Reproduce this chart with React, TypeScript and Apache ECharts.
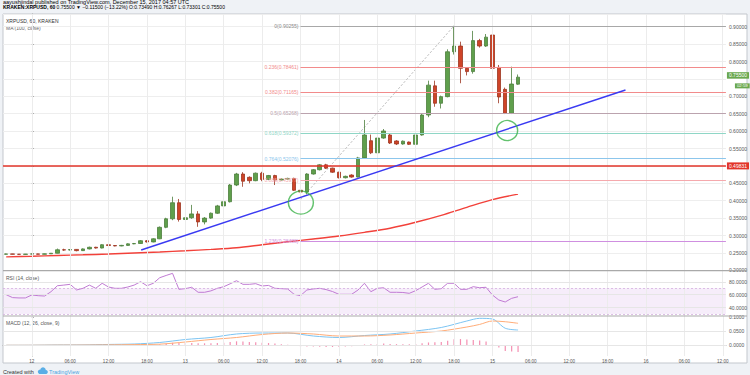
import React, { useEffect, useRef } from 'react';
import * as echarts from 'echarts';

const FIRST_HOUR = -4;
const LAST_HOUR = 108;
const DAY_LABELS = ['12', '13', '14', '15', '16'];
const HOUR_LABELS = ['06:00', '12:00', '18:00'];

// hourly candles, Dec 11 20:00 -> Dec 15 04:00 (UTC)
const opens = [
  0.2462, 0.2470, 0.2463, 0.2458, 0.2466, 0.2471, 0.2462, 0.2472, 0.2490, 0.2590,
  0.2582, 0.2600, 0.2565, 0.2615, 0.2662, 0.2640, 0.2735, 0.2712, 0.2700, 0.2716,
  0.2760, 0.2770, 0.2850, 0.2815, 0.2905, 0.3235, 0.3480, 0.3942, 0.3460, 0.3510,
  0.3620, 0.3390, 0.3500, 0.3640, 0.3850, 0.3970, 0.4451, 0.4767, 0.4672, 0.4575,
  0.4790, 0.4610, 0.4723, 0.4595, 0.4620, 0.4640, 0.4300, 0.4250, 0.4767, 0.4890,
  0.5030, 0.4935, 0.4820, 0.4660, 0.4737, 0.4680, 0.5230, 0.5724, 0.5377, 0.5800,
  0.5888, 0.5716, 0.5630, 0.5685, 0.5620, 0.5888, 0.6463, 0.7300, 0.6800, 0.6990,
  0.8280, 0.8445, 0.7805, 0.7710, 0.8600, 0.8445, 0.8761, 0.7830, 0.7200, 0.6510,
  0.7349,
];
const closes = [
  0.2470, 0.2463, 0.2458, 0.2466, 0.2471, 0.2462, 0.2472, 0.2490, 0.2590, 0.2582,
  0.2596, 0.2565, 0.2615, 0.2662, 0.2640, 0.2735, 0.2712, 0.2700, 0.2716, 0.2760,
  0.2770, 0.2850, 0.2815, 0.2905, 0.3235, 0.3480, 0.3942, 0.3460, 0.3510, 0.3620,
  0.3390, 0.3500, 0.3640, 0.3850, 0.3970, 0.4451, 0.4767, 0.4560, 0.4575, 0.4790,
  0.4610, 0.4723, 0.4595, 0.4620, 0.4640, 0.4300, 0.4250, 0.4767, 0.4890, 0.5030,
  0.4935, 0.4820, 0.4660, 0.4700, 0.4680, 0.5230, 0.5888, 0.5377, 0.5800, 0.6003,
  0.5658, 0.5630, 0.5710, 0.5620, 0.5888, 0.6463, 0.7321, 0.6800, 0.6990, 0.8280,
  0.8445, 0.7805, 0.7710, 0.8600, 0.8445, 0.8700, 0.7805, 0.6980, 0.6510, 0.7353,
  0.7550,
];
const lows = [
  0.2455, 0.2458, 0.2450, 0.2452, 0.2460, 0.2458, 0.2458, 0.2468, 0.2485, 0.2560,
  0.2570, 0.2545, 0.2555, 0.2600, 0.2625, 0.2630, 0.2700, 0.2690, 0.2690, 0.2705,
  0.2750, 0.2760, 0.2800, 0.2805, 0.2895, 0.3210, 0.3440, 0.3400, 0.3250, 0.3480,
  0.3250, 0.3320, 0.3480, 0.3620, 0.3830, 0.3950, 0.4420, 0.4400, 0.4500, 0.4560,
  0.4560, 0.4590, 0.4450, 0.4580, 0.4600, 0.4280, 0.4030, 0.4180, 0.4750, 0.4870,
  0.4910, 0.4800, 0.4640, 0.4640, 0.4660, 0.4670, 0.5200, 0.5340, 0.5360, 0.5780,
  0.5630, 0.5600, 0.5610, 0.5600, 0.5600, 0.5870, 0.6400, 0.6700, 0.6650, 0.6970,
  0.8200, 0.7375, 0.7600, 0.7650, 0.8400, 0.8420, 0.7750, 0.6800, 0.6490, 0.6490,
  0.7330,
];
const highs = [
  0.2478, 0.2474, 0.2468, 0.2470, 0.2478, 0.2476, 0.2478, 0.2495, 0.2625, 0.2620,
  0.2610, 0.2610, 0.2630, 0.2680, 0.2675, 0.2750, 0.2760, 0.2725, 0.2730, 0.2775,
  0.2785, 0.2870, 0.2870, 0.2920, 0.3260, 0.3510, 0.4115, 0.4050, 0.3930, 0.3880,
  0.3700, 0.3530, 0.3660, 0.3880, 0.4000, 0.4480, 0.4800, 0.4820, 0.4700, 0.4810,
  0.4830, 0.4740, 0.4745, 0.4640, 0.4660, 0.4660, 0.4320, 0.4790, 0.4910, 0.5050,
  0.5060, 0.4950, 0.4830, 0.4720, 0.4760, 0.5260, 0.6320, 0.5900, 0.5830, 0.6060,
  0.5920, 0.5740, 0.5730, 0.5700, 0.5910, 0.6500, 0.7450, 0.7450, 0.7020, 0.8350,
  0.90255, 0.8570, 0.7830, 0.8880, 0.8650, 0.8790, 0.8800, 0.7900, 0.7250, 0.7851,
  0.76267,
];

// MA(100, close): [hour, value]
const maPoints = [
  [-4, 0.2386], [0, 0.2404], [4, 0.2425], [8, 0.2445], [12, 0.2468], [16, 0.2497],
  [20, 0.2526], [24, 0.2560], [28, 0.2600], [32, 0.2650], [36, 0.2735], [40, 0.2820],
  [44, 0.2900], [48, 0.2985], [52, 0.3090], [56, 0.3210], [60, 0.3380], [64, 0.3580],
  [68, 0.3810], [72, 0.4030], [76, 0.4190],
];

// RSI(14, close) per candle
const rsiValues = [
  60, 55.5, 55, 55, 59.6, 58.5, 58, 64.7, 74, 75,
  76.2, 67.4, 70, 75, 70, 77.8, 72, 70, 70, 72,
  75, 80.3, 74, 77.8, 86.5, 90, 93.3, 68.4, 69.5, 71.6,
  63.8, 63.8, 66, 70, 72.5, 77, 81.8, 76.2, 76.2, 77.2,
  73.6, 74.5, 70, 69.5, 68.9, 60.7, 58.5, 67.4, 69, 70,
  68, 65, 60.7, 60.7, 60.7, 67.4, 77.8, 64.7, 70, 70.9,
  63.8, 63.8, 63.5, 62.2, 66.3, 72, 77.8, 68.4, 69.4, 77.8,
  77.8, 68.4, 68.4, 72.5, 70.9, 71.6, 59.6, 51.8, 48.7, 54.4,
  56.9,
];

// MACD(12, 26, close, 9)
const macdPoints = [
  [-4, 0.0], [0, 0.0002], [4, 0.001], [8, 0.0012], [12, 0.003], [16, 0.0046],
  [20, 0.0099], [24, 0.0204], [28, 0.0275], [32, 0.0398], [36, 0.0433], [40, 0.0433],
  [44, 0.0327], [48, 0.0275], [52, 0.0345], [56, 0.0398], [60, 0.0504], [64, 0.0627],
  [68, 0.0856], [70, 0.095], [72, 0.0926], [74, 0.06], [76, 0.0539],
];
const signalPoints = [
  [-4, 0.0], [0, 0.0001], [4, 0.0005], [8, 0.0008], [12, 0.0015], [16, 0.0025],
  [20, 0.004], [24, 0.0116], [28, 0.0204], [32, 0.0275], [36, 0.038], [40, 0.0433],
  [44, 0.0398], [48, 0.0327], [52, 0.0327], [56, 0.0363], [60, 0.0433], [64, 0.0504],
  [68, 0.0644], [70, 0.0735], [72, 0.0856], [74, 0.083], [76, 0.0775],
];
const histValues = [
  0.0002, 0.0002, 0.0002, 0.0002, 0.0002, 0.0002, 0.0002, 0.0002, 0.0002, 0.0002,
  0.0002, 0.0002, 0.0002, 0.0002, 0.0005, 0.0005, 0.0005, 0.0005, 0.0005, 0.001,
  0.0015, 0.002, 0.002, 0.0025, 0.004, 0.006, 0.009, 0.008, 0.008, 0.008,
  0.007, 0.007, 0.0075, 0.008, 0.009, 0.012, 0.014, 0.013, 0.012, 0.011,
  0.009, 0.008, 0.006, 0.004, 0.002, -0.002, -0.005, -0.004, -0.004, -0.005,
  -0.006, -0.006, -0.005, -0.004, -0.003, 0.0, 0.003, 0.004, 0.005, 0.006,
  0.005, 0.004, 0.004, 0.004, 0.005, 0.007, 0.01, 0.011, 0.012, 0.016,
  0.021, 0.022, 0.02, 0.019, 0.017, 0.013, 0.004, -0.008, -0.02, -0.022,
  -0.024,
];

// drawings
const fibRatios = ['0', '0.236', '0.382', '0.5', '0.618', '0.764', '0.886', '1.236'];
const fibPrices = [0.90255, 0.78461, 0.71165, 0.65268, 0.59372, 0.52076, 0.45977, 0.28488];
const fibColors = ['#a8a8a8', '#f28b8b', '#f28b8b', '#bba3ae', '#8fd6c6', '#8cc6ec', '#f5a9ad', '#cf8fe0'];
const fibStartHour = 42;
const fibSwing = [[42, 0.4028], [66, 0.90255]];
const trendLine = [[17.1, 0.2583], [92.8, 0.7181]];
const circlePoints = [[42.06, 0.3948], [74.3, 0.6017]];
const resistanceLevel = 0.49831;
const lastPrice = 0.755;
const countdownLevel = 0.7305;
// axis labels hidden under the price badges
const coveredTicks = [0.5, 0.75];

const FONT = 'Liberation Sans, Arial, sans-serif';
const LEFT = 3;
const RIGHT = 24;
const X_MIN = FIRST_HOUR - 0.5;
const X_MAX = LAST_HOUR + 0.5;

export default function App() {
  const ref = useRef<HTMLDivElement>(null);

  useEffect(() => {
    if (!ref.current) return;
    const chart = echarts.init(ref.current, null, { renderer: 'svg' });

    const hours: number[] = [];
    for (let h = FIRST_HOUR; h <= LAST_HOUR; h++) hours.push(h);
    const cats = hours.map((h) => String(h));
    const gridHours = hours.filter((h) => h % 6 === 0);
    const isLabelIdx = (i: number) => (i + FIRST_HOUR) % 6 === 0 && i + FIRST_HOUR >= 0;
    const fmtHour = (v: string) => {
      const h = Number(v);
      if (h < 0 || h % 6 !== 0) return '';
      if (h % 24 === 0) return DAY_LABELS[h / 24];
      return HOUR_LABELS[(h % 24) / 6 - 1];
    };
    const fmtPrice = (v: number) => {
      if (Math.abs(v * 20 - Math.round(v * 20)) > 1e-6) return '';
      if (coveredTicks.some((c) => Math.abs(c - v) < 1e-6)) return '';
      return v.toFixed(5);
    };

    const vLines = (color: string) => ({
      silent: true,
      symbol: ['none', 'none'],
      label: { show: false },
      lineStyle: { color, width: 1, type: 'solid' },
      data: gridHours.map((h) => ({ xAxis: h })),
    });

    const catAxis = (gridIndex: number, showLabels: boolean) => ({
      type: 'category',
      gridIndex,
      data: cats,
      boundaryGap: true,
      axisLine: { show: showLabels, lineStyle: { color: '#a8a8a8' } },
      axisTick: { show: false },
      axisLabel: {
        show: showLabels,
        interval: (i: number) => isLabelIdx(i),
        formatter: fmtHour,
        fontSize: 4.6,
        color: '#555',
        fontFamily: FONT,
        margin: 3,
      },
      splitLine: { show: false },
    });
    const valAxis = (gridIndex: number) => ({
      type: 'value',
      gridIndex,
      min: X_MIN,
      max: X_MAX,
      show: false,
    });

    const option: any = {
      animation: false,
      backgroundColor: '#eff2f6',
      grid: [
        { left: LEFT, right: RIGHT, top: 14, height: 256.3 },
        { left: LEFT, right: RIGHT, top: 270.7, height: 45.3 },
        { left: LEFT, right: RIGHT, top: 316, height: 40 },
      ],
      xAxis: [catAxis(0, false), catAxis(1, false), catAxis(2, true), valAxis(0), valAxis(1), valAxis(2)],
      yAxis: [
        {
          type: 'value', gridIndex: 0, position: 'right', min: 0.2, max: 0.9365, interval: 0.05,
          axisLine: { show: true, lineStyle: { color: '#9a9a9a' } },
          axisTick: { show: true, length: 2, lineStyle: { color: '#9a9a9a' } },
          axisLabel: { fontSize: 5, color: '#555', fontFamily: FONT, margin: 3, showMaxLabel: false, formatter: fmtPrice },
          splitLine: { show: true, lineStyle: { color: '#eeeeee', width: 1 } },
        },
        {
          type: 'value', gridIndex: 1, position: 'right', min: 26.9, max: 97.4,
          axisLine: { show: true, lineStyle: { color: '#9a9a9a' } },
          axisTick: { show: true, length: 2, customValues: [40, 60, 80], lineStyle: { color: '#9a9a9a' } },
          axisLabel: { fontSize: 5, color: '#555', fontFamily: FONT, margin: 3, customValues: [40, 60, 80], formatter: (v: number) => v.toFixed(4) },
          splitLine: { show: false },
        },
        {
          type: 'value', gridIndex: 2, position: 'right', min: -0.0377, max: 0.1032,
          axisLine: { show: true, lineStyle: { color: '#9a9a9a' } },
          axisTick: { show: true, length: 2, customValues: [0, 0.05, 0.1], lineStyle: { color: '#9a9a9a' } },
          axisLabel: { fontSize: 5, color: '#555', fontFamily: FONT, margin: 3, customValues: [0, 0.05, 0.1], formatter: (v: number) => v.toFixed(4) },
          splitLine: { show: false },
        },
      ],
      series: [
        // vertical grid, main pane
        { type: 'line', xAxisIndex: 3, yAxisIndex: 0, data: [], z: 1, markLine: vLines('#ececec') },
        // RSI pane background
        {
          type: 'line', xAxisIndex: 4, yAxisIndex: 1, data: [], z: 1,
          markArea: { silent: true, itemStyle: { color: 'rgba(170, 90, 210, 0.11)' }, data: [[{ yAxis: 30 }, { yAxis: 70 }]] },
          markLine: {
            silent: true, symbol: ['none', 'none'], label: { show: false },
            data: [
              ...gridHours.map((h) => ({ xAxis: h, lineStyle: { color: '#ececec', width: 1, type: 'solid' } })),
              ...[40, 60, 80].map((v) => ({ yAxis: v, lineStyle: { color: '#e6e6e6', width: 1, type: 'solid' } })),
              ...[30, 70].map((v) => ({ yAxis: v, lineStyle: { color: '#d4b0e0', width: 0.8, type: [2, 2] } })),
            ],
          },
        },
        // MACD pane grid
        {
          type: 'line', xAxisIndex: 5, yAxisIndex: 2, data: [], z: 1,
          markLine: {
            silent: true, symbol: ['none', 'none'], label: { show: false },
            data: [
              ...gridHours.map((h) => ({ xAxis: h, lineStyle: { color: '#ececec', width: 1, type: 'solid' } })),
              ...[0, 0.05].map((v) => ({ yAxis: v, lineStyle: { color: '#e6e6e6', width: 1, type: 'solid' } })),
            ],
          },
        },
        // fib retracement
        {
          type: 'line', xAxisIndex: 3, yAxisIndex: 0, data: [], z: 2,
          markLine: {
            silent: true, symbol: ['none', 'none'],
            data: fibPrices.map((p, i) => [
              {
                coord: [fibStartHour, p],
                lineStyle: { color: fibColors[i], width: 1, type: 'solid' },
                label: {
                  show: true, position: 'start', distance: 2,
                  formatter: `${fibRatios[i]}(${p.toFixed(5)})`,
                  color: fibColors[i] === '#a8a8a8' ? '#8a8a8a' : fibColors[i],
                  fontSize: 5, fontFamily: FONT,
                },
              },
              { coord: [X_MAX, p] },
            ]),
          },
        },
        // fib swing (dashed)
        {
          type: 'line', xAxisIndex: 3, yAxisIndex: 0, data: fibSwing, symbol: 'none', z: 2,
          lineStyle: { color: '#b5b5b5', width: 1, type: [2, 2] },
        },
        // candles
        {
          type: 'candlestick', xAxisIndex: 0, yAxisIndex: 0, z: 3,
          data: opens.map((o, i) => [o, closes[i], lows[i], highs[i]]),
          barWidth: 4,
          itemStyle: {
            color: '#5f9f4c', color0: '#cf4428',
            borderColor: '#4d7f3c', borderColor0: '#9c3520', borderWidth: 0.8,
          },
          markLine: {
            silent: true, symbol: ['none', 'none'],
            data: [
              {
                yAxis: resistanceLevel,
                lineStyle: { color: '#e2352a', width: 1.6, type: 'solid' },
                label: {
                  show: true, position: 'end', distance: 1, formatter: resistanceLevel.toFixed(5),
                  backgroundColor: '#e2352a', color: '#fff', fontSize: 5, fontFamily: FONT, padding: [1, 2, 1, 2],
                },
              },
              {
                yAxis: lastPrice,
                lineStyle: { width: 0, color: 'rgba(0,0,0,0)' },
                label: {
                  show: true, position: 'end', distance: 1, formatter: lastPrice.toFixed(5),
                  backgroundColor: '#6aa84f', color: '#fff', fontSize: 5, fontFamily: FONT, padding: [1, 2, 0.5, 2],
                },
              },
              {
                yAxis: countdownLevel,
                lineStyle: { width: 0, color: 'rgba(0,0,0,0)' },
                label: {
                  show: true, position: 'end', distance: 9, formatter: '02:59',
                  backgroundColor: '#6aa84f', color: '#fff', fontSize: 4.3, fontFamily: FONT, padding: [0.5, 2, 0.5, 2],
                },
              },
            ],
          },
        },
        // MA 100
        {
          type: 'line', xAxisIndex: 3, yAxisIndex: 0, data: maPoints, symbol: 'none', smooth: 0.3, z: 4,
          lineStyle: { color: '#f2413a', width: 1.4 },
        },
        // trend line
        {
          type: 'line', xAxisIndex: 3, yAxisIndex: 0, data: trendLine, symbol: 'none', z: 5,
          lineStyle: { color: '#3a3af2', width: 1.4 },
        },
        // circles
        {
          type: 'scatter', xAxisIndex: 3, yAxisIndex: 0, z: 6,
          data: [
            { value: circlePoints[0], symbolSize: [25, 23] },
            { value: circlePoints[1], symbolSize: [21, 20] },
          ],
          symbol: 'circle',
          itemStyle: { color: 'rgba(0,0,0,0)', borderColor: '#3cb34a', borderWidth: 1.4 },
        },
        // RSI
        {
          type: 'line', xAxisIndex: 1, yAxisIndex: 1, data: rsiValues, symbol: 'none', z: 4,
          lineStyle: { color: '#c07bd3', width: 1 },
        },
        // MACD histogram
        {
          type: 'bar', xAxisIndex: 2, yAxisIndex: 2, data: histValues, barWidth: 1.2, z: 3,
          itemStyle: { color: '#f48fb1' },
        },
        {
          type: 'line', xAxisIndex: 5, yAxisIndex: 2, data: macdPoints, symbol: 'none', smooth: 0.3, z: 4,
          lineStyle: { color: '#7cc4f2', width: 1 },
        },
        {
          type: 'line', xAxisIndex: 5, yAxisIndex: 2, data: signalPoints, symbol: 'none', smooth: 0.3, z: 4,
          lineStyle: { color: '#ffac78', width: 1 },
        },
      ],
      graphic: [
        { type: 'rect', z: -10, silent: true, shape: { x: 3, y: 14, width: 744, height: 349 }, style: { fill: '#ffffff', stroke: '#c3c7cd', lineWidth: 1 } },
        { type: 'line', z: 10, silent: true, shape: { x1: 3, y1: 270.7, x2: 747, y2: 270.7 }, style: { stroke: '#a9a9a9', lineWidth: 1.2 } },
        { type: 'line', z: 10, silent: true, shape: { x1: 3, y1: 316, x2: 747, y2: 316 }, style: { stroke: '#a9a9a9', lineWidth: 1.2 } },
        {
          type: 'text', x: 3, y: 1.5, silent: true,
          style: {
            text: '{a|aayushjindal}{b| published on TradingView.com, December 15, 2017 04:57 UTC}',
            verticalAlign: 'middle', fontFamily: FONT, fontSize: 5.5,
            rich: { a: { color: '#2f80d8', fontSize: 5.5, fontFamily: FONT }, b: { color: '#777', fontSize: 5.5, fontFamily: FONT } },
          },
        },
        {
          type: 'text', x: 3, y: 6.8, silent: true,
          style: {
            text: '{k|KRAKEN:XRPUSD, 60} {v|0.75500} {r|▼} {v|−0.11500 (−13.22%)} {v|O:}{r|0.73490} {v|H:}{r|0.76267} {v|L:}{r|0.73301} {v|C:}{r|0.75500}',
            verticalAlign: 'middle', fontFamily: FONT, fontSize: 5,
            rich: {
              k: { color: '#222', fontWeight: 'bold', fontSize: 5, fontFamily: FONT },
              v: { color: '#333', fontSize: 5, fontFamily: FONT },
              r: { color: '#d2443a', fontSize: 5, fontFamily: FONT },
            },
          },
        },
        { type: 'text', x: 6, y: 20.7, silent: true, style: { text: 'XRPUSD, 60, KRAKEN', fill: '#333', fontSize: 5, fontFamily: FONT, verticalAlign: 'middle' } },
        { type: 'text', x: 6, y: 27.7, silent: true, style: { text: 'MA (100, close)', fill: '#666', fontSize: 5, fontFamily: FONT, verticalAlign: 'middle' } },
        { type: 'text', x: 6, y: 277.7, silent: true, style: { text: 'RSI (14, close)', fill: '#555', fontSize: 5, fontFamily: FONT, verticalAlign: 'middle' } },
        { type: 'text', x: 6, y: 323.3, silent: true, style: { text: 'MACD (12, 26, close, 9)', fill: '#555', fontSize: 5, fontFamily: FONT, verticalAlign: 'middle' } },
        { type: 'text', x: 3, y: 371.5, silent: true, style: { text: 'Created with', fill: '#333', fontSize: 5.5, fontFamily: FONT, verticalAlign: 'middle' } },
        {
          type: 'group', silent: true,
          children: [
            { type: 'circle', shape: { cx: 40, cy: 371.8, r: 2.2 }, style: { fill: '#5aaee6' } },
            { type: 'circle', shape: { cx: 43, cy: 370.2, r: 2.8 }, style: { fill: '#5aaee6' } },
            { type: 'circle', shape: { cx: 45.8, cy: 372, r: 2 }, style: { fill: '#5aaee6' } },
            { type: 'rect', shape: { x: 39.5, y: 372, width: 6.5, height: 2 }, style: { fill: '#5aaee6' } },
          ],
        },
        { type: 'text', x: 49, y: 371.5, silent: true, style: { text: 'TradingView', fill: '#4aa3df', fontSize: 5.5, fontFamily: FONT, verticalAlign: 'middle' } },
      ],
    };

    chart.setOption(option);
    return () => chart.dispose();
  }, []);

  return <div ref={ref} style={{ position: 'absolute', left: 0, top: 0, width: 750, height: 375 }} />;
}
